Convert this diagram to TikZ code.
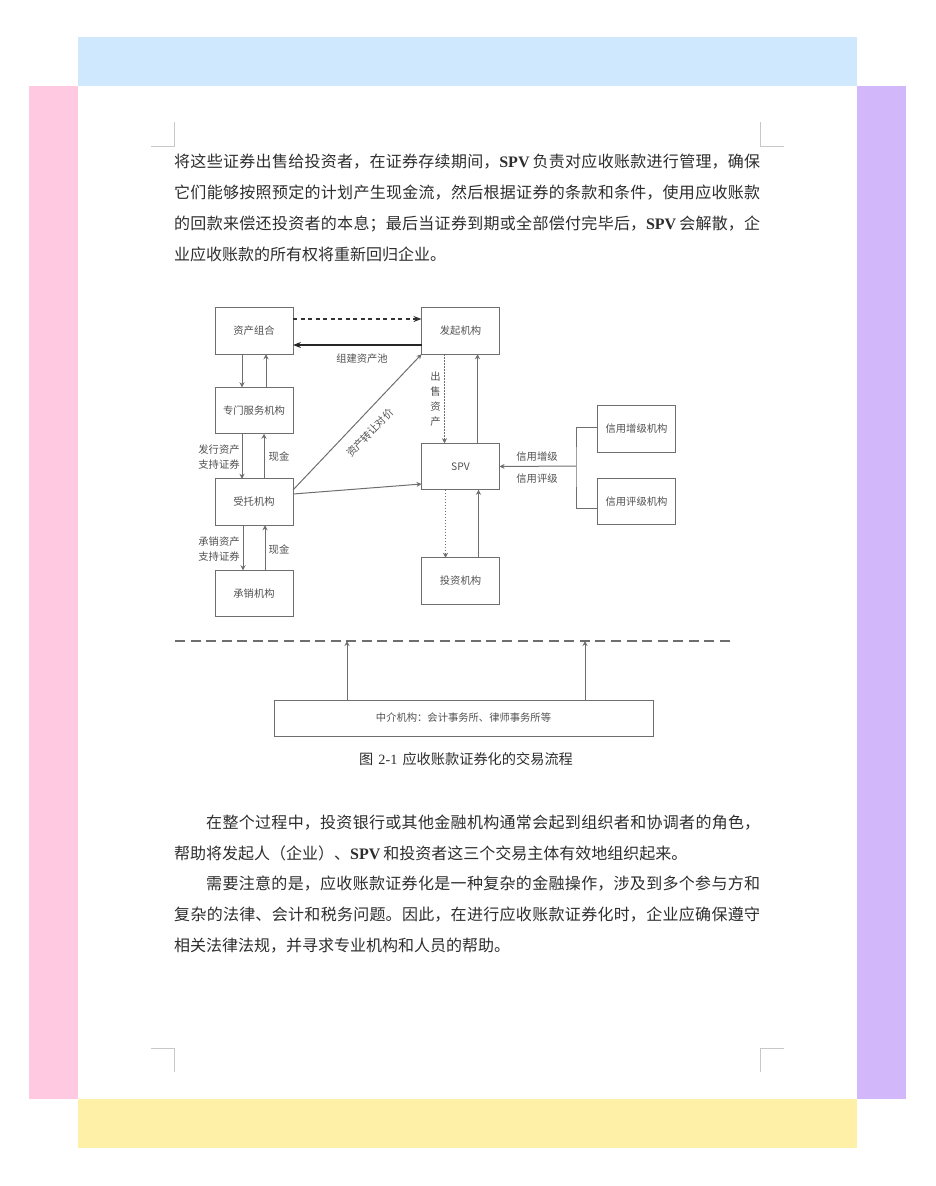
\documentclass[tikz,border=0pt]{standalone}
\usepackage{fontspec}
\usepackage{xcolor}
\setmainfont{Noto Sans CJK SC}
\newfontfamily\latinfont{Liberation Serif}
\usetikzlibrary{arrows.meta, positioning, calc}
\definecolor{topBand}{RGB}{207, 232, 253}
\definecolor{leftBand}{RGB}{255, 201, 226}
\definecolor{rightBand}{RGB}{210, 184, 251}
\definecolor{bottomBand}{RGB}{255, 240, 168}
\definecolor{lineColor}{RGB}{110, 110, 110}
\definecolor{labelColor}{RGB}{80, 80, 80}
\definecolor{bodyColor}{RGB}{45, 45, 45}
\XeTeXlinebreaklocale "zh"
\XeTeXlinebreakskip=0pt plus 2pt
\newcommand{\spvname}{{\latinfont\bfseries SPV}\hspace{3pt}}

\begin{document}
\begin{tikzpicture}[
    x=1pt, y=-1pt,
    box/.style={rectangle, draw=lineColor, line width=1pt, outer sep=0pt, minimum width=78pt, minimum height=46.5pt, align=center, text=labelColor, font=\fontsize{10.3}{12}\selectfont},
    tag/.style={inner sep=0pt, align=center, text=labelColor, font=\fontsize{10.3}{15}\selectfont},
    para/.style={anchor=north west, inner sep=0pt, text width=586pt, align=justify, text=bodyColor, font=\fontsize{16}{31}\selectfont},
    arrow/.style={-{Stealth[length=5pt, width=5pt]}, line width=1pt, draw=lineColor},
    dotarrow/.style={arrow, line width=0.8pt, dash pattern=on 1.5pt off 1.5pt},
    crop/.style={draw=black!22, line width=0.7pt}
]
    \useasboundingbox (0,0) rectangle (935,1186);

    % Page bands
    \fill[topBand] (78,37) rectangle (857,86);
    \fill[leftBand] (29,86) rectangle (78,1099);
    \fill[rightBand] (857,86) rectangle (906,1099);
    \fill[bottomBand] (78,1099) rectangle (857,1148);

    % Crop marks
    \draw[crop] (151,146) -- (174,146) -- (174,122);
    \draw[crop] (784,146) -- (760,146) -- (760,122);
    \draw[crop] (151,1048) -- (174,1048) -- (174,1072);
    \draw[crop] (784,1048) -- (760,1048) -- (760,1072);

    % Body text
    \node[para] (p1) at (174,154) {将这些证券出售给投资者，在证券存续期间，\spvname 负责对应收账款进行管理，确保\linebreak
        它们能够按照预定的计划产生现金流，然后根据证券的条款和条件，使用应收账款\linebreak
        的回款来偿还投资者的本息；最后当证券到期或全部偿付完毕后，\spvname 会解散，企\linebreak
        业应收账款的所有权将重新回归企业。};
    \node[para] (p2) at (174,815) {\hspace*{32pt}在整个过程中，投资银行或其他金融机构通常会起到组织者和协调者的角色，\linebreak
        帮助将发起人（企业）、\spvname 和投资者这三个交易主体有效地组织起来。};
    \node[para] (p3) at (174,876) {\hspace*{32pt}需要注意的是，应收账款证券化是一种复杂的金融操作，涉及到多个参与方和\linebreak
        复杂的法律、会计和税务问题。因此，在进行应收账款证券化时，企业应确保遵守\linebreak
        相关法律法规，并寻求专业机构和人员的帮助。};

    % Left column
    \node[box] (assets) at (254,331) {资产组合};
    \node[box, below=33pt of assets] (servicer) {专门服务机构};
    \node[box, below=45pt of servicer] (trustee) {受托机构};
    \node[box, below=45pt of trustee] (underwriter) {承销机构};

    % Middle column
    \node[box, right=128.5pt of assets] (originator) {发起机构};
    \node[box, below=89pt of originator] (spv) {SPV};
    \node[box, below=68pt of spv] (investor) {投资机构};

    % Credit agencies
    \node[box] (enhancer) at (636.5,429) {信用增级机构};
    \node[box, below=26pt of enhancer] (rater) {信用评级机构};
    \coordinate (junction) at (576,466);

    % Intermediary
    \node[box, minimum width=379pt, minimum height=36pt] (agency) at (463.5,718) {中介机构：会计事务所、律师事务所等};
    \coordinate (divideL) at (175,641);
    \coordinate (divideR) at (730,641);

    % Arrows
    \draw[-{Stealth[length=8pt, width=6pt]}, line width=1.7pt, black!80, dash pattern=on 4pt off 3.5pt] ([yshift=12pt]assets.east) -- ([yshift=12pt]originator.west);
    \draw[-{Stealth[length=8pt, width=6pt]}, line width=2pt, black!85] ([yshift=-14pt]originator.west) -- ([yshift=-14pt]assets.east);
    \draw[arrow] ([xshift=-12pt]assets.south) -- ([xshift=-12pt]servicer.north);
    \draw[arrow] ([xshift=12pt]servicer.north) -- ([xshift=12pt]assets.south);
    \draw[arrow] ([xshift=-12pt]servicer.south) -- ([xshift=-12pt]trustee.north);
    \draw[arrow] ([xshift=10pt]trustee.north) -- ([xshift=10pt]servicer.south);
    \draw[arrow] ([xshift=-11pt]trustee.south) -- ([xshift=-11pt]underwriter.north);
    \draw[arrow] ([xshift=11pt]underwriter.north) -- ([xshift=11pt]trustee.south);
    \draw[arrow] ([yshift=12pt]trustee.east) -- (originator.south west);
    \draw[arrow] ([yshift=8pt]trustee.east) -- ([yshift=-17.5pt]spv.west);
    \draw[dotarrow] ([xshift=-16pt]originator.south) -- ([xshift=-16pt]spv.north);
    \draw[arrow] ([xshift=17pt]spv.north) -- ([xshift=17pt]originator.south);
    \draw[dotarrow] ([xshift=-15pt]spv.south) -- ([xshift=-15pt]investor.north);
    \draw[arrow] ([xshift=18pt]investor.north) -- ([xshift=18pt]spv.south);
    \draw[line width=1pt, lineColor] ([yshift=2pt]enhancer.west) -| (junction) |- ([yshift=-6.5pt]rater.west);
    \draw[arrow] (junction) -- (spv.east);
    \draw[lineColor, line width=2pt, dash pattern=on 10pt off 5.57pt] (divideL) -- (divideR);
    \draw[arrow] ([xshift=-116.5pt]agency.north) -- ([xshift=-116.5pt]agency.north |- divideL);
    \draw[arrow] ([xshift=121.5pt]agency.north) -- ([xshift=121.5pt]agency.north |- divideL);

    % Labels
    \node[tag] (poolTag) at (362,359) {组建资产池};
    \node[tag] (saleTag) at (435.5,399.5) {出\\售\\资\\产};
    \node[tag, rotate=46] (priceTag) at (370,433) {资产转让对价};
    \node[tag] (issueTag) at (219,457.5) {发行资产\\支持证券};
    \node[tag] (cashTagA) at (279,457) {现金};
    \node[tag] (sellTag) at (219,549.5) {承销资产\\支持证券};
    \node[tag] (cashTagB) at (279,550) {现金};
    \node[tag] (enhanceTag) at (537,457) {信用增级};
    \node[tag] (rateTag) at (537,479) {信用评级};

    % Caption
    \node[inner sep=0pt, text=bodyColor, font=\fontsize{14.2}{16}\selectfont] (caption) at (466,759) {图\hspace{2pt} {\latinfont 2-1}\hspace{2pt} 应收账款证券化的交易流程};
\end{tikzpicture}
\end{document}
